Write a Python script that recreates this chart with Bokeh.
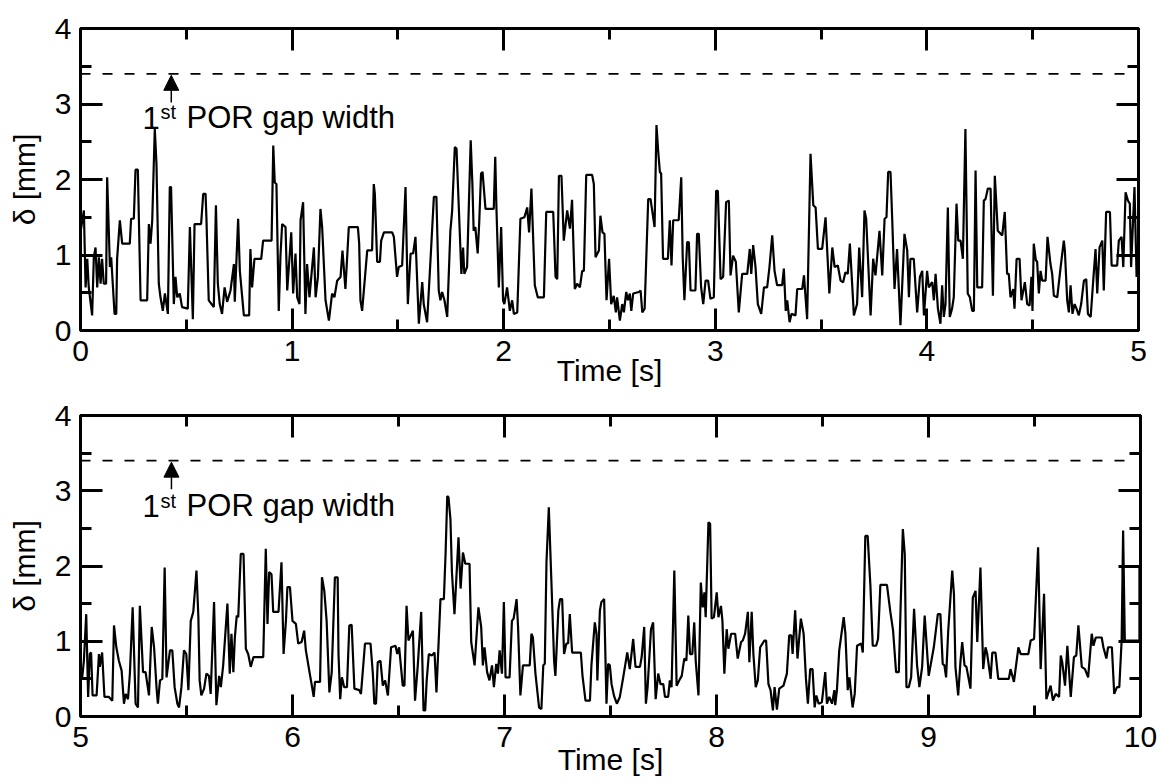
from bokeh.plotting import figure
from bokeh.layouts import column
from bokeh.models import (Range1d, LinearAxis, FixedTicker, CustomJSTickFormatter,
                          Arrow, NormalHead)
from bokeh.core.properties import value
from bokeh.embed import file_html
from bokeh.resources import INLINE

# ---------------- data ----------------
t_top = [0.000, 0.016, 0.024, 0.032, 0.039, 0.055, 0.063, 0.071, 0.079, 0.087, 0.095, 0.102, 0.110, 0.121, 0.126, 0.139, 0.145, 0.161, 0.169, 0.173, 0.186, 0.197, 0.233, 0.239, 0.252, 0.260, 0.271, 0.284, 0.315, 0.323, 0.331, 0.339, 0.351, 0.359, 0.370, 0.378, 0.389, 0.399, 0.413, 0.422, 0.428, 0.441, 0.449, 0.457, 0.469, 0.480, 0.507, 0.517, 0.531, 0.539, 0.570, 0.580, 0.591, 0.595, 0.606, 0.630, 0.640, 0.649, 0.658, 0.669, 0.681, 0.693, 0.709, 0.725, 0.729, 0.745, 0.753, 0.772, 0.797, 0.803, 0.811, 0.822, 0.854, 0.863, 0.903, 0.911, 0.918, 0.926,
         0.937, 0.945, 0.953, 0.969, 0.977, 0.996, 1.005, 1.016, 1.024, 1.035, 1.040, 1.052, 1.063, 1.071, 1.082, 1.103, 1.111, 1.122, 1.134, 1.142, 1.158, 1.174, 1.189, 1.200, 1.213, 1.229, 1.238, 1.252, 1.268, 1.311, 1.317, 1.323, 1.331, 1.355, 1.378, 1.386, 1.391, 1.402, 1.415, 1.421, 1.434, 1.473, 1.481, 1.496, 1.504, 1.520, 1.536, 1.547, 1.560, 1.572, 1.583, 1.599, 1.615, 1.622, 1.638, 1.654, 1.670, 1.682, 1.693, 1.701, 1.709, 1.720, 1.733, 1.748, 1.756, 1.769, 1.777, 1.800, 1.808, 1.814, 1.827, 1.844, 1.852, 1.858, 1.866, 1.877, 1.884, 1.893, 1.900, 1.914,
         1.937, 1.953, 1.960, 1.966, 1.977, 1.988, 1.997, 2.003, 2.016, 2.029, 2.040, 2.048, 2.064, 2.079, 2.098, 2.111, 2.120, 2.131, 2.147, 2.161, 2.190, 2.201, 2.234, 2.245, 2.253, 2.261, 2.273, 2.284, 2.300, 2.313, 2.323, 2.336, 2.347, 2.360, 2.371, 2.379, 2.390, 2.418, 2.426, 2.434, 2.450, 2.457, 2.467, 2.476, 2.486, 2.498, 2.508, 2.520, 2.530, 2.536, 2.549, 2.560, 2.568, 2.579, 2.587, 2.596, 2.603, 2.612, 2.639, 2.647, 2.655, 2.666, 2.683, 2.694, 2.713, 2.722, 2.730, 2.738, 2.744, 2.753, 2.776, 2.785, 2.793, 2.801, 2.827, 2.839, 2.846, 2.854, 2.867, 2.875, 2.883, 2.906, 2.914, 2.922, 2.933, 2.943, 2.954, 2.966,
         2.977, 2.993, 3.004, 3.012, 3.025, 3.037, 3.051, 3.064, 3.072, 3.084, 3.097, 3.111, 3.127, 3.151, 3.163, 3.170, 3.179, 3.190, 3.201, 3.217, 3.230, 3.245, 3.256, 3.269, 3.280, 3.292, 3.316, 3.324, 3.333, 3.340, 3.351, 3.360, 3.379, 3.387, 3.411, 3.419, 3.434, 3.450, 3.463, 3.474, 3.485, 3.505, 3.521, 3.539, 3.553, 3.564, 3.579, 3.592, 3.604, 3.615, 3.626, 3.636, 3.655, 3.670, 3.680, 3.694, 3.705, 3.713, 3.734, 3.746, 3.757, 3.776, 3.789, 3.800, 3.809, 3.817, 3.828, 3.836, 3.847, 3.859, 3.875, 3.894, 3.907, 3.915, 3.922, 3.938, 3.954, 3.967, 3.978, 3.986, 4.001,
         4.009, 4.025, 4.033, 4.041, 4.052, 4.064, 4.072, 4.080, 4.088, 4.099, 4.108, 4.119, 4.127, 4.140, 4.148, 4.159, 4.170, 4.182, 4.193, 4.203, 4.214, 4.222, 4.230, 4.238, 4.261, 4.269, 4.277, 4.288, 4.301, 4.312, 4.321, 4.335, 4.356, 4.368, 4.379, 4.387, 4.395, 4.408, 4.414, 4.424, 4.438, 4.447, 4.463, 4.474, 4.485, 4.494, 4.499, 4.505, 4.515, 4.521, 4.529, 4.537, 4.545, 4.561, 4.570, 4.584, 4.592, 4.600, 4.616, 4.632, 4.647, 4.652, 4.663, 4.671, 4.679, 4.688, 4.698, 4.707, 4.718, 4.729, 4.742, 4.753, 4.761, 4.774, 4.786, 4.797, 4.805, 4.816, 4.829, 4.836, 4.847, 4.865, 4.873, 4.899, 4.907, 4.920, 4.928, 4.939, 4.950, 4.959, 4.965, 4.981, 4.991, 4.999]
d_top = [1.30, 1.59, 0.57, 0.95, 0.57, 0.20, 0.97, 1.10, 0.57, 0.97, 0.62, 0.95, 0.62, 0.62, 2.03, 0.84, 0.97, 0.22, 0.22, 0.95, 1.46, 1.15, 1.15, 1.48, 1.48, 2.13, 2.13, 0.40, 0.40, 1.41, 1.15, 1.46, 2.67, 2.21, 0.62, 0.44, 0.26, 0.49, 0.22, 1.90, 1.90, 0.35, 0.71, 0.44, 0.49, 0.31, 0.29, 1.37, 0.15, 1.41, 1.41, 1.81, 1.81, 1.50, 0.40, 0.31, 1.66, 0.62, 0.35, 0.22, 0.57, 0.38, 0.53, 0.88, 0.38, 1.48, 0.79, 0.20, 0.20, 1.08, 0.57, 0.95, 0.95, 1.19, 1.19, 2.45, 1.96, 1.94,
         0.26, 0.99, 1.41, 1.37, 0.53, 1.30, 0.49, 1.02, 0.44, 0.35, 1.46, 1.70, 0.22, 0.88, 0.44, 1.10, 0.44, 0.71, 1.61, 1.37, 0.40, 0.13, 0.49, 0.44, 0.66, 0.71, 1.06, 0.55, 1.37, 1.37, 1.15, 0.40, 0.26, 1.06, 1.06, 1.94, 1.81, 0.91, 0.91, 1.19, 1.30, 1.30, 1.24, 0.71, 0.84, 0.86, 1.90, 0.35, 1.02, 1.02, 1.24, 0.09, 0.64, 0.35, 0.11, 0.93, 1.77, 1.77, 0.53, 0.40, 0.51, 0.40, 0.18, 1.32, 1.57, 2.43, 2.41, 0.75, 1.10, 0.75, 0.84, 2.52, 1.94, 1.32, 1.37, 1.02, 1.41, 2.08, 2.10, 1.61,
         1.61, 1.61, 2.30, 1.59, 0.57, 1.37, 0.40, 0.35, 0.57, 0.26, 0.40, 0.22, 0.24, 1.48, 1.50, 1.63, 1.30, 1.88, 0.60, 0.44, 0.44, 1.57, 1.57, 0.71, 0.68, 2.05, 2.05, 1.19, 1.59, 1.35, 1.73, 0.55, 0.62, 0.57, 0.79, 0.79, 2.06, 2.06, 1.94, 0.97, 1.06, 1.52, 1.30, 1.28, 0.40, 0.95, 0.35, 0.46, 0.24, 0.44, 0.13, 0.35, 0.24, 0.51, 0.40, 0.49, 0.26, 0.49, 0.51, 0.53, 0.24, 0.29, 1.74, 1.74, 1.37, 2.72, 2.38, 2.10, 2.08, 0.95, 0.95, 1.46, 0.86, 1.46, 1.46, 2.03, 0.97, 0.40, 1.17, 1.17, 0.53, 0.53, 1.28, 1.28, 0.57, 0.35, 0.66, 0.66,
         0.42, 0.44, 1.85, 1.85, 0.68, 0.71, 1.70, 1.72, 0.73, 0.99, 0.91, 0.24, 0.75, 0.75, 1.08, 0.75, 1.13, 0.84, 0.35, 0.22, 0.57, 0.57, 0.84, 1.26, 0.79, 0.60, 0.60, 0.82, 0.26, 0.40, 0.11, 0.22, 0.20, 0.55, 0.55, 0.73, 0.15, 2.34, 1.66, 1.63, 1.08, 1.08, 1.50, 0.49, 1.10, 0.84, 0.86, 0.66, 0.64, 0.77, 0.75, 1.15, 0.20, 0.35, 1.10, 0.44, 1.59, 1.48, 0.20, 0.95, 0.73, 1.32, 0.73, 1.48, 1.50, 2.10, 2.10, 1.48, 0.55, 1.08, 0.07, 1.28, 1.06, 0.44, 0.95, 0.95, 0.24, 0.71, 0.79, 0.20, 0.79,
         0.57, 0.64, 0.40, 0.75, 0.29, 0.09, 0.60, 0.18, 0.35, 1.63, 0.18, 0.29, 0.44, 1.68, 1.19, 1.19, 0.95, 2.67, 0.49, 0.44, 0.26, 0.26, 2.12, 0.57, 0.57, 1.72, 1.74, 1.88, 1.88, 0.46, 2.05, 1.32, 1.26, 1.57, 0.75, 0.75, 0.44, 0.55, 0.29, 0.95, 0.95, 0.40, 0.64, 0.35, 0.33, 0.71, 0.26, 1.15, 0.93, 0.91, 0.49, 0.79, 0.66, 0.66, 1.24, 0.88, 0.75, 0.46, 0.44, 0.84, 1.19, 1.06, 0.40, 0.24, 0.60, 0.22, 0.35, 0.29, 0.20, 0.35, 0.66, 0.68, 0.22, 0.18, 0.66, 1.08, 0.49, 1.10, 1.19, 0.53, 1.57, 1.57, 0.86, 0.86, 1.19, 1.24, 0.84, 1.83, 1.72, 1.68, 0.84, 1.90, 0.71, 1.15]

t_bot = [5.000, 5.008, 5.016, 5.027, 5.036, 5.044, 5.050, 5.057, 5.076, 5.087, 5.091, 5.102, 5.113, 5.134, 5.150, 5.158, 5.169, 5.181, 5.194, 5.205, 5.213, 5.224, 5.233, 5.246, 5.260, 5.271, 5.280, 5.295, 5.307, 5.323, 5.336, 5.347, 5.359, 5.365, 5.375, 5.386, 5.397, 5.406, 5.422, 5.433, 5.444, 5.457, 5.465, 5.476, 5.488, 5.499, 5.509, 5.520, 5.532, 5.547, 5.556, 5.562, 5.570, 5.583, 5.594, 5.606, 5.614, 5.630, 5.641, 5.654, 5.662, 5.673, 5.693, 5.704, 5.712, 5.721, 5.728, 5.737, 5.744, 5.756, 5.769, 5.780, 5.791, 5.803, 5.816, 5.862, 5.874, 5.882, 5.890, 5.901, 5.909, 5.934,
         5.948, 5.958, 5.969, 5.976, 5.988, 6.000, 6.016, 6.027, 6.043, 6.055, 6.063, 6.079, 6.090, 6.100, 6.106, 6.130, 6.139, 6.150, 6.161, 6.174, 6.185, 6.200, 6.213, 6.217, 6.225, 6.233, 6.244, 6.257, 6.268, 6.279, 6.292, 6.315, 6.323, 6.342, 6.368, 6.379, 6.386, 6.394, 6.402, 6.415, 6.426, 6.437, 6.450, 6.465, 6.486, 6.494, 6.503, 6.520, 6.528, 6.538, 6.547, 6.568, 6.578, 6.591, 6.607, 6.618, 6.626, 6.633, 6.643, 6.657, 6.670, 6.679, 6.698, 6.714, 6.722, 6.730, 6.736, 6.745, 6.752, 6.764, 6.783, 6.793, 6.804, 6.815, 6.835, 6.843, 6.859, 6.877, 6.890, 6.898, 6.906, 6.918, 6.929,
         6.941, 6.950, 6.961, 6.969, 6.977, 6.988, 6.997, 7.005, 7.024, 7.035, 7.043, 7.048, 7.057, 7.064, 7.075, 7.087, 7.119, 7.127, 7.134, 7.146, 7.163, 7.174, 7.183, 7.190, 7.198, 7.209, 7.221, 7.234, 7.240, 7.254, 7.262, 7.272, 7.281, 7.292, 7.300, 7.308, 7.319, 7.360, 7.368, 7.382, 7.403, 7.410, 7.426, 7.434, 7.438, 7.450, 7.457, 7.470, 7.481, 7.489, 7.497, 7.505, 7.517, 7.530, 7.544, 7.560, 7.579, 7.591, 7.607, 7.618, 7.639, 7.647, 7.659, 7.667, 7.675, 7.691, 7.701, 7.713, 7.725, 7.736, 7.749, 7.757, 7.772, 7.780, 7.788, 7.801, 7.812, 7.828, 7.836, 7.848, 7.858, 7.867, 7.875, 7.886, 7.895, 7.902, 7.915, 7.926, 7.935, 7.943, 7.949, 7.962, 7.970, 7.977,
         7.988, 8.001, 8.009, 8.021, 8.028, 8.037, 8.048, 8.056, 8.069, 8.088, 8.100, 8.116, 8.124, 8.135, 8.148, 8.155, 8.166, 8.174, 8.185, 8.195, 8.206, 8.226, 8.234, 8.245, 8.255, 8.266, 8.274, 8.285, 8.296, 8.316, 8.332, 8.343, 8.353, 8.359, 8.371, 8.382, 8.398, 8.411, 8.422, 8.431, 8.442, 8.453, 8.463, 8.471, 8.482, 8.497, 8.513, 8.521, 8.532, 8.545, 8.556, 8.560, 8.568, 8.579, 8.600, 8.608, 8.619, 8.627, 8.642, 8.652, 8.663, 8.683, 8.690, 8.702, 8.713, 8.726, 8.737, 8.753, 8.762, 8.773, 8.804, 8.820, 8.833, 8.847, 8.860, 8.868, 8.879, 8.888, 8.896, 8.907, 8.918, 8.932, 8.946, 8.957, 8.970, 8.982, 9.001,
         9.025, 9.033, 9.044, 9.056, 9.067, 9.075, 9.083, 9.093, 9.101, 9.112, 9.120, 9.127, 9.140, 9.151, 9.159, 9.170, 9.179, 9.198, 9.209, 9.222, 9.230, 9.245, 9.258, 9.269, 9.277, 9.293, 9.301, 9.316, 9.329, 9.379, 9.387, 9.403, 9.424, 9.435, 9.471, 9.482, 9.498, 9.517, 9.529, 9.545, 9.556, 9.576, 9.587, 9.600, 9.616, 9.624, 9.631, 9.644, 9.655, 9.671, 9.686, 9.697, 9.707, 9.723, 9.738, 9.753, 9.770, 9.778, 9.789, 9.817, 9.825, 9.839, 9.847, 9.865, 9.876, 9.889, 9.900, 9.911, 9.918, 9.926, 9.995, 9.995, 9.915, 9.915]
d_bot = [0.63, 0.52, 0.74, 1.36, 0.26, 0.83, 0.85, 0.28, 0.28, 0.83, 0.66, 0.85, 0.26, 0.26, 0.21, 1.21, 0.92, 0.74, 0.61, 0.17, 0.30, 0.23, 0.57, 1.45, 0.17, 0.12, 1.47, 0.59, 0.59, 0.28, 1.19, 0.92, 0.37, 0.17, 0.48, 0.50, 1.98, 0.52, 0.88, 0.88, 0.39, 0.17, 0.12, 0.39, 0.88, 0.83, 0.35, 1.27, 1.39, 1.94, 1.32, 0.48, 0.28, 0.37, 0.57, 0.54, 0.30, 1.52, 0.15, 0.54, 0.39, 0.68, 1.50, 0.57, 1.10, 0.59, 1.05, 1.34, 1.32, 2.16, 2.16, 0.90, 0.83, 0.66, 0.79, 0.79, 2.23, 1.23, 1.92, 1.89, 1.39, 1.39,
         2.05, 0.83, 1.27, 1.72, 1.72, 1.27, 1.23, 0.97, 0.99, 1.14, 0.88, 0.61, 0.43, 0.26, 0.46, 0.46, 1.85, 1.67, 1.27, 0.32, 0.59, 1.85, 1.85, 0.83, 0.23, 0.52, 0.39, 0.39, 1.21, 1.22, 0.37, 0.35, 0.30, 0.97, 0.97, 0.57, 0.17, 0.17, 0.72, 0.74, 0.41, 0.48, 0.28, 0.92, 0.94, 0.83, 0.92, 0.41, 0.41, 1.47, 1.01, 1.14, 0.21, 0.68, 1.39, 0.08, 0.08, 0.48, 0.83, 0.81, 0.85, 0.32, 1.56, 1.56, 2.16, 2.93, 2.91, 2.62, 1.92, 1.36, 2.38, 1.70, 2.18, 2.03, 2.03, 0.99, 0.68, 1.45, 1.19, 0.68, 0.92, 0.59, 0.48,
         0.68, 0.39, 0.70, 0.57, 0.88, 0.57, 1.52, 0.52, 0.52, 1.27, 1.30, 1.39, 1.56, 1.19, 0.28, 0.68, 0.68, 1.10, 1.05, 0.57, 0.12, 0.10, 0.68, 0.70, 2.05, 2.78, 1.81, 0.74, 0.54, 1.41, 1.56, 1.56, 0.83, 0.97, 0.97, 1.36, 0.85, 0.85, 0.54, 0.21, 0.21, 0.68, 1.25, 1.10, 0.48, 1.41, 1.52, 1.56, 0.17, 0.70, 0.68, 0.43, 0.27, 0.17, 0.26, 0.52, 0.85, 0.63, 1.03, 0.66, 0.66, 0.79, 1.19, 0.17, 0.39, 1.16, 1.25, 0.23, 0.57, 0.43, 0.43, 0.26, 0.26, 0.48, 0.39, 1.94, 0.41, 0.50, 0.54, 0.77, 0.74, 1.34, 0.83, 0.83, 1.25, 0.74, 0.28, 1.78, 1.45, 1.65, 1.32, 2.58, 2.56, 1.30,
         1.32, 1.65, 1.32, 1.47, 1.27, 0.57, 1.16, 0.90, 1.10, 1.10, 0.77, 0.99, 1.01, 1.10, 1.39, 0.72, 1.39, 0.83, 0.39, 0.48, 0.92, 1.01, 1.01, 0.43, 0.35, 0.08, 0.39, 0.09, 0.37, 0.41, 0.57, 1.08, 1.08, 0.83, 1.41, 0.77, 1.30, 1.10, 0.50, 0.17, 0.63, 0.63, 0.12, 0.28, 0.17, 0.19, 0.59, 0.17, 0.26, 0.17, 0.35, 0.15, 0.35, 0.88, 1.32, 1.10, 0.35, 0.52, 0.12, 0.30, 0.94, 0.97, 0.85, 2.40, 2.40, 1.74, 0.94, 0.94, 1.03, 1.75, 1.75, 1.39, 1.14, 0.59, 0.59, 1.41, 2.49, 2.16, 0.39, 0.39, 0.52, 1.43, 0.68, 0.39, 0.66, 1.34, 0.54,
         0.92, 1.10, 1.36, 1.36, 0.70, 0.68, 0.52, 1.14, 1.47, 1.94, 1.63, 0.66, 0.28, 0.74, 0.99, 0.68, 0.66, 0.37, 1.58, 1.67, 0.99, 1.98, 0.63, 0.92, 0.83, 0.50, 0.85, 0.85, 0.50, 0.50, 0.63, 0.46, 0.92, 0.83, 0.83, 1.01, 1.03, 2.25, 0.63, 1.63, 0.23, 0.41, 0.21, 0.30, 0.26, 0.81, 0.72, 0.41, 0.94, 0.26, 0.79, 0.81, 1.21, 0.66, 0.63, 0.52, 1.10, 0.94, 1.05, 1.05, 0.92, 0.77, 0.92, 0.92, 0.30, 0.39, 0.39, 1.01, 2.47, 1.01, 1.01, 1.99, 1.99, 1.01]

gap_width = 3.4                      # 1st POR gap width [mm]
y_ticks = [0, 1, 2, 3, 4]
y_minor = [0.5, 1.5, 2.5, 3.5]
x_ticks_top = [0, 1, 2, 3, 4, 5]
x_minor_top = [0.5, 1.5, 2.5, 3.5, 4.5]
x_ticks_bot = [5, 6, 7, 8, 9, 10]
x_minor_bot = [5.5, 6.5, 7.5, 8.5, 9.5]
ann_text_main = "POR gap width"

FONT = "Liberation Sans"
FS = "30px"
FS_ANN = "31px"


def style_axis(ax, ticks, minor, labels=True):
    ax.ticker = FixedTicker(ticks=ticks, minor_ticks=minor)
    ax.major_tick_in = 22
    ax.major_tick_out = 0
    ax.minor_tick_in = 11
    ax.minor_tick_out = 0
    ax.major_tick_line_width = 3
    ax.minor_tick_line_width = 3
    ax.major_tick_line_color = "black"
    ax.minor_tick_line_color = "black"
    ax.axis_line_color = None
    if labels:
        ax.major_label_text_font = FONT
        ax.major_label_text_font_size = FS
        ax.major_label_text_color = "black"
        ax.axis_label_text_font = FONT
        ax.axis_label_text_font_size = FS
        ax.axis_label_text_font_style = "normal"
        ax.axis_label_text_color = "black"
    else:
        ax.formatter = CustomJSTickFormatter(code="return ''")
        ax.major_label_text_font_size = "0px"
        ax.major_label_standoff = 0


def make_panel(t, d, xr, xt, xm, fw, fh, bt, bb, xl_std, ann_x, ann_y):
    p = figure(frame_width=fw, frame_height=fh,
               x_range=Range1d(*xr), y_range=Range1d(0, 4),
               output_backend="svg", toolbar_location=None,
               min_border_left=80, min_border_right=20, min_border_top=bt,
               min_border_bottom=bb, background_fill_color="white",
               border_fill_color="white")
    p.grid.visible = False
    p.outline_line_color = "black"
    p.outline_line_width = 3

    style_axis(p.xaxis[0], xt, xm)
    style_axis(p.yaxis[0], y_ticks, y_minor)
    p.xaxis[0].axis_label = "Time [s]"
    p.xaxis[0].major_label_standoff = 10
    p.xaxis[0].axis_label_standoff = xl_std
    p.yaxis[0].axis_label = "δ [mm]"
    p.yaxis[0].major_label_standoff = 9
    p.yaxis[0].axis_label_standoff = 11

    top = LinearAxis()
    style_axis(top, xt, xm, labels=False)
    p.add_layout(top, "above")
    right = LinearAxis()
    style_axis(right, y_ticks, y_minor, labels=False)
    p.add_layout(right, "right")

    # gap width reference line
    p.line([xr[0], xr[0] + 4.96], [gap_width, gap_width], line_color="black",
           line_width=1.7, line_dash="10 12")

    # measured signal
    p.line(t, d, line_color="black", line_width=2.2)

    # annotation
    p.add_layout(Arrow(end=NormalHead(size=15, fill_color="black", line_color="black"),
                       x_start=ann_x + 0.136, y_start=3.02,
                       x_end=ann_x + 0.136, y_end=3.38,
                       line_color="black", line_width=1.5))
    p.text(x=[ann_x], y=[ann_y], text=["1"], text_font=value(FONT),
           text_font_size=FS_ANN, text_baseline="alphabetic", text_color="black")
    p.text(x=[ann_x], y=[ann_y + 0.07], text=["st"], text_font=value(FONT),
           text_font_size="20px", text_baseline="alphabetic", text_color="black",
           x_offset=18)
    p.text(x=[ann_x], y=[ann_y], text=[ann_text_main], text_font=value(FONT),
           text_font_size=FS_ANN, text_baseline="alphabetic", text_color="black",
           x_offset=44)
    return p


p1 = make_panel(t_top, d_top, (0, 5), x_ticks_top, x_minor_top, 1058, 302, 28, 65, -10, 0.293, 2.82)
p2 = make_panel(t_bot, d_bot, (5, 10), x_ticks_bot, x_minor_bot, 1060, 301, 20, 64, -7, 5.293, 2.80)

layout = column(p1, p2)
open("out.html", "w").write(file_html(layout, INLINE))
